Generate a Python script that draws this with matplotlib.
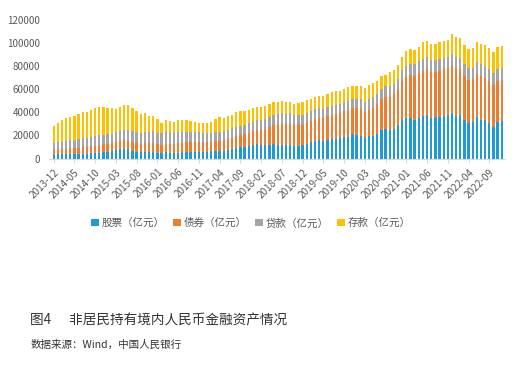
import numpy as np
import matplotlib.pyplot as plt

plt.rcParams['font.family'] = ['Noto Sans CJK SC', 'DejaVu Sans']

# months 2013-12 .. 2022-12
months = []
y, m = 2013, 12
for _ in range(109):
    months.append(f"{y}-{m:02d}")
    m += 1
    if m > 12:
        y, m = y + 1, 1

# 亿元
stocks = [3400, 3500, 3600, 3600, 3700, 3800, 3900, 4200, 4300, 4400, 4700, 5200, 5600,
          5800, 6200, 7000, 8200, 8600, 8100, 6600, 5700, 5400, 5900, 5900, 6000,
          5000, 4900, 5300, 5200, 5100, 5200, 5400, 5600, 5600, 5500, 5400, 5500,
          5800, 6100, 6300, 6500, 6800, 7600, 8200, 8800, 9600, 10200, 10800, 11700,
          12500, 11500, 11800, 12100, 12600, 11800, 12100, 11400, 11900, 10800, 11100, 11500,
          12500, 14200, 15600, 16000, 15000, 16100, 16500, 16600, 17600, 18500, 18900, 21000,
          20200, 19400, 17900, 19400, 19300, 21200, 24600, 25700, 25000, 25800, 28600, 33600,
          35000, 35200, 33600, 35000, 36700, 37600, 35200, 35800, 36100, 37200, 37500, 39400,
          37000, 37500, 33200, 31000, 32000, 35700, 33700, 33000, 30600, 27400, 31500, 32100]
bonds = [4000, 4300, 4600, 4900, 5100, 5300, 5500, 5700, 5900, 6100, 6300, 6500, 6700,
         6800, 6900, 7000, 7200, 7300, 7400, 7500, 7600, 7500, 7500, 7400, 7500,
         7400, 7200, 7400, 7600, 7700, 7900, 8100, 8300, 8400, 8500, 8600, 8500,
         8400, 8500, 8600, 8800, 8900, 9600, 10000, 10400, 10800, 11000, 11300, 11700,
         12400, 13100, 14000, 15200, 16200, 17300, 17900, 18200, 18300, 18500, 18400, 17900,
         18500, 18600, 19000, 19500, 19900, 20700, 21400, 21900, 21800, 22300, 22500, 22600,
         23300, 23800, 22400, 23000, 24800, 25600, 26700, 27600, 28500, 29600, 31200, 33400,
         35600, 37000, 37800, 38900, 39400, 39700, 39500, 39300, 39800, 40000, 40400, 41000,
         40600, 39600, 38200, 37100, 36500, 37400, 37300, 37000, 36500, 36300, 35800, 35600]
loans = [5900, 6200, 6500, 6800, 7100, 7300, 7600, 7800, 8000, 8100, 8200, 8300, 8200,
         8400, 8500, 8600, 8800, 9000, 9200, 9300, 9500, 9600, 9700, 9800, 9900,
         10000, 9800, 9900, 9800, 9700, 9600, 9400, 9200, 9000, 8800, 8600, 8200,
         7900, 7700, 7700, 7800, 7800, 7800, 7900, 8000, 8100, 8200, 8300, 8400,
         8500, 8600, 8700, 8800, 8900, 9000, 9000, 8900, 8800, 8600, 8500, 8400,
         8200, 8000, 7900, 7800, 7700, 7700, 7800, 7900, 8000, 8100, 8200, 8300,
         8400, 8500, 8600, 8700, 8800, 8900, 9000, 9100, 9200, 9300, 9400, 9500,
         9700, 9900, 10000, 10100, 10200, 10300, 10300, 10200, 10100, 10000, 10000, 10100,
         10200, 10300, 10300, 10200, 10200, 10300, 10400, 10400, 10500, 10600, 10500, 10400]
deposits = [15200, 17000, 18300, 19700, 20100, 20600, 21500, 22300, 22300, 23400, 24800, 24500, 24000,
            23000, 21900, 20400, 20800, 21100, 21300, 20100, 18200, 16000, 15900, 13400, 13600,
            11600, 9100, 10400, 9900, 9500, 10300, 10100, 9900, 9500, 8700, 8400, 8300,
            8900, 9700, 11400, 12900, 11500, 12000, 11400, 12800, 12500, 12100, 11600, 12200,
            11600, 11800, 11000, 10900, 10800, 10900, 10500, 10500, 9500, 9600, 10000, 10700,
            11300, 10700, 10500, 11200, 11400, 11500, 11800, 11600, 10600, 11600, 12400, 11100,
            11100, 11300, 12100, 12900, 12100, 11300, 10700, 9600, 12300, 12300, 11800, 11500,
            12700, 12900, 12100, 12500, 14700, 14400, 14500, 14200, 15000, 14800, 14600, 17500,
            17700, 17100, 16300, 16700, 16800, 17600, 18100, 17600, 17900, 17700, 18700, 18900]

names = ['股票（亿元）', '债券（亿元）', '贷款（亿元）', '存款（亿元）']
colors = ['#1E9AD6', '#ED7D31', '#A5A5A5', '#FFC000']

fig = plt.figure(figsize=(5.29, 3.67), dpi=100)
ax = fig.add_axes([0.092, 0.568, 0.862, 0.378])

x = np.arange(len(months))
bottom = np.zeros(len(months))
for vals, name, c in zip([stocks, bonds, loans, deposits], names, colors):
    ax.bar(x, vals, width=0.55, bottom=bottom, color=c, label=name)
    bottom += np.array(vals)

ax.set_ylim(0, 120000)
ax.set_yticks(np.arange(0, 120001, 20000))
ax.set_xlim(-1.2, len(months) - 0.3)
ax.set_xticks(x[::5])
ax.set_xticklabels(months[::5], rotation=45, ha='right', rotation_mode='anchor')
ax.tick_params(axis='y', length=0, labelsize=7, labelcolor='#595959', pad=6)
ax.tick_params(axis='x', length=3, color='#D9D9D9', labelsize=7.2, labelcolor='#595959', pad=3)
for s in ['top', 'right', 'left']:
    ax.spines[s].set_visible(False)
ax.spines['bottom'].set_color('#D9D9D9')

leg = fig.legend(loc='center', bbox_to_anchor=(0.475, 0.392), ncol=4, frameon=False,
                 fontsize=7.6, handlelength=0.7, handleheight=0.7, handletextpad=0.3,
                 columnspacing=0.8)
for t in leg.get_texts():
    t.set_color('#595959')

fig.text(0.057, 0.115, '图4      非居民持有境内人民币金融资产情况', fontsize=9.8, color='#333333')
fig.text(0.057, 0.052, '数据来源：Wind，中国人民银行', fontsize=7.6, color='#333333')

fig.savefig('out.png', dpi=100)
